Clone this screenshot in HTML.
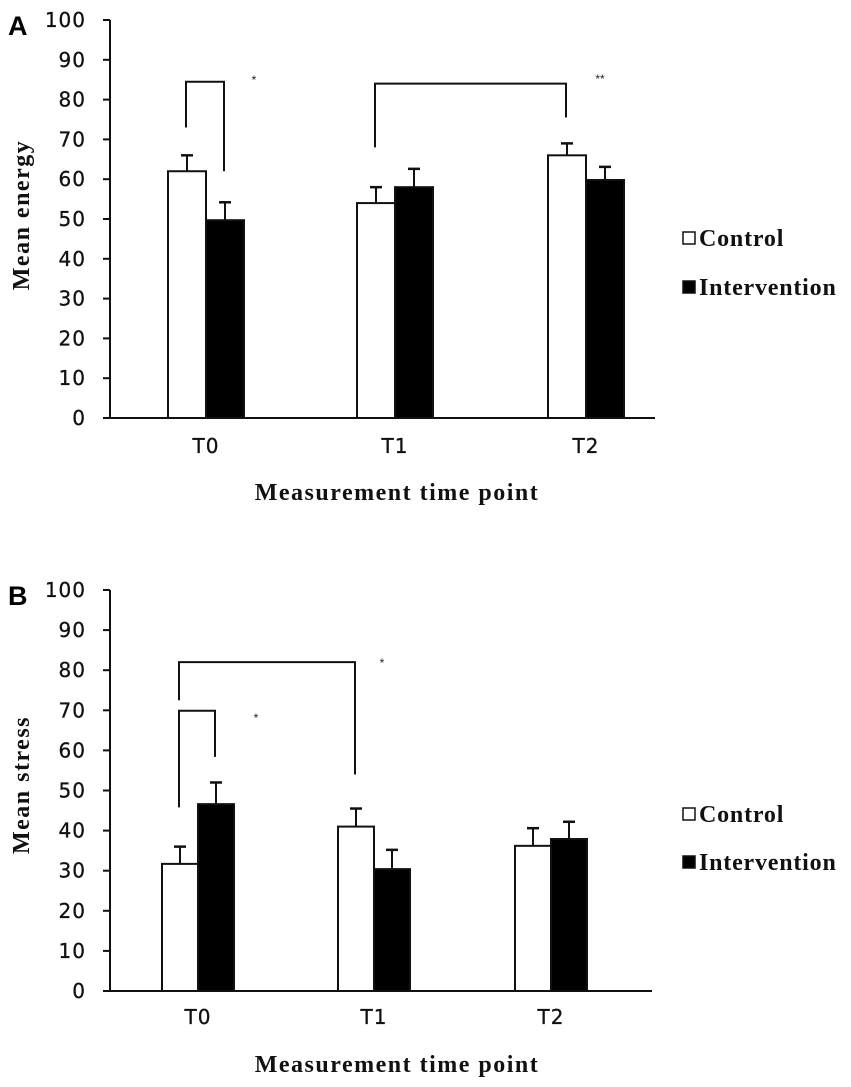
<!DOCTYPE html>
<html><head><meta charset="utf-8"><style>
html,body{margin:0;padding:0;background:#fff;width:851px;height:1087px;overflow:hidden}
svg{display:block}
.tick{font-family:"DejaVu Sans","Liberation Sans",sans-serif;font-size:20px;fill:#111;letter-spacing:1px;stroke:#111;stroke-width:0.3}
.ser{font-family:"Liberation Serif",serif;font-weight:bold;fill:#111}
</style></head><body>
<svg id="chart" width="851" height="1087" viewBox="0 0 851 1087" xmlns="http://www.w3.org/2000/svg"></svg>
<script>
const categories = ["T0","T1","T2"];
const energyControl = [62, 54, 66];
const energyIntervention = [49.7, 58, 59.8];
const energyControlErr = [4, 4, 3];
const energyInterventionErr = [4.5, 4.6, 3.3];
const stressControl = [31.7, 41, 36.2];
const stressIntervention = [46.6, 30.4, 37.9];
const stressControlErr = [4.3, 4.5, 4.4];
const stressInterventionErr = [5.4, 4.8, 4.3];
const yTicks = [0,10,20,30,40,50,60,70,80,90,100];

const NS = "http://www.w3.org/2000/svg";
const svg = document.getElementById("chart");
function mk(tag, attrs, parent){const e=document.createElementNS(NS,tag);for(const k in attrs)e.setAttribute(k,attrs[k]);(parent||svg).appendChild(e);return e;}

const panels = [
 {letter:"A", y0:418, y100:20, ctrl:energyControl, intv:energyIntervention, ce:energyControlErr, ie:energyInterventionErr, centers:[206,395,586], bw:38, ytitle:"Mean energy", ytitleY:215, catY:453, xtitleY:500, legY:[238,287], axisEnd:655,
  brackets:[{v1:73,v2:62,top:84.5,g1:0,s1:0,g2:0,s2:1,star:"*",sx:254,sy:84},
            {v1:68,v2:75.5,top:84,g1:1,s1:0,g2:2,s2:0,star:"**",sx:600,sy:83}]},
 {letter:"B", y0:991, y100:590, ctrl:stressControl, intv:stressIntervention, ce:stressControlErr, ie:stressInterventionErr, centers:[198,374,551], bw:36, ytitle:"Mean stress", ytitleY:785, catY:1024, xtitleY:1072, legY:[814,862], axisEnd:652,
  brackets:[{v1:72.5,v2:54,top:82,g1:0,s1:0,g2:1,s2:0,star:"*",sx:382,sy:667},
            {v1:45.8,v2:58.4,top:69.9,g1:0,s1:0,g2:0,s2:1,star:"*",sx:256,sy:722}]}
];

panels.forEach((p,pi)=>{
  const g = mk("g",{});
  
  
  const Y = v => p.y0 + (p.y100-p.y0)*v/100;
  const ax=110;
  const lt = mk("text",{x:8,y:p.y100+15,"font-family":"Liberation Sans, sans-serif","font-weight":"bold","font-size":"27"},g);
  lt.textContent=p.letter;
  
  
  const yax = mk("line",{x1:ax,y1:p.y100,x2:ax,y2:p.y0,stroke:"#111","stroke-width":2},g);
  
  
  const xax = mk("line",{x1:ax-7,y1:p.y0,x2:p.axisEnd,y2:p.y0,stroke:"#111","stroke-width":2},g);
  
  
  yTicks.forEach(t=>{
    mk("line",{x1:ax-7,y1:Y(t),x2:ax,y2:Y(t),stroke:"#111","stroke-width":2},g);
    const tx = mk("text",{x:86,y:Y(t)+7,"text-anchor":"end",class:"tick"},g);
    tx.textContent=t;
    
    
  });
  categories.forEach((c,i)=>{
    const cx=p.centers[i];
    const tx = mk("text",{x:cx,y:p.catY,"text-anchor":"middle",class:"tick"},g);
    tx.textContent=c;
    
    
    [[p.ctrl,p.ce,"#fff",cx-p.bw,"control"],[p.intv,p.ie,"#000",cx,"intervention"]].forEach(s=>{
      const v=s[0][i], e=s[1][i], bx=s[3];
      const ex = bx+p.bw/2;
      mk("line",{x1:ex,y1:Y(v),x2:ex,y2:Y(v+e),stroke:"#111","stroke-width":2},g);
      mk("line",{x1:ex-6,y1:Y(v+e),x2:ex+6,y2:Y(v+e),stroke:"#111","stroke-width":2.5},g);
      const r = mk("rect",{x:bx,y:Y(v),width:p.bw,height:p.y0-Y(v),fill:s[2],stroke:"#111","stroke-width":2},g);
      
      
    });
  });
  p.brackets.forEach(b=>{
    const x1=p.centers[b.g1]+(b.s1? p.bw/2 : -p.bw/2)-1;
    const x2=p.centers[b.g2]+(b.s2? p.bw/2 : -p.bw/2)-1;
    const pl = mk("polyline",{points:`${x1},${Y(b.v1)} ${x1},${Y(b.top)} ${x2},${Y(b.top)} ${x2},${Y(b.v2)}`,fill:"none",stroke:"#111","stroke-width":2},g);
    
    
    const st = mk("text",{x:b.sx,y:b.sy,"text-anchor":"middle","font-family":"Liberation Sans, sans-serif","font-size":"12",fill:"#222"},g);
    st.textContent=b.star;
    
    
  });
  const yt = mk("text",{x:0,y:0,transform:`translate(29,${p.ytitleY}) rotate(-90)`,"text-anchor":"middle",class:"ser","font-size":"24","letter-spacing":"1.5"},g);
  yt.textContent=p.ytitle;
  
  
  const xt = mk("text",{x:397,y:p.xtitleY,"text-anchor":"middle",class:"ser","font-size":"24","letter-spacing":"1.5"},g);
  xt.textContent="Measurement time point";
  
  
  [["Control","#fff"],["Intervention","#000"]].forEach((l,k)=>{
    const ly=p.legY[k];
    const sw = mk("rect",{x:683,y:ly-6,width:12,height:12,fill:l[1],stroke:"#111","stroke-width":1.5},g);
    
    
    const lt2 = mk("text",{x:699,y:ly+8,class:"ser","font-size":"24","font-weight":"normal","letter-spacing":"0.8"},g);
    lt2.textContent=l[0];
    
    
  });
});
</script>
</body></html>
